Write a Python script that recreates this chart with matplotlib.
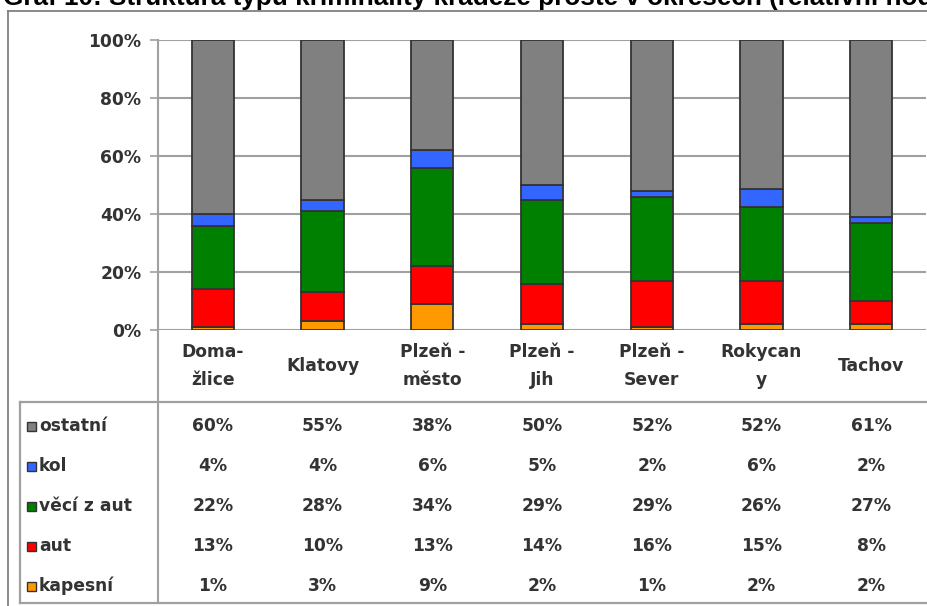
import matplotlib
matplotlib.use("Agg")
import matplotlib.pyplot as plt
import numpy as np
from matplotlib.patches import Rectangle
from matplotlib.lines import Line2D

categories = ["Doma-\nžlice", "Klatovy", "Plzeň -\nměsto", "Plzeň -\nJih", "Plzeň -\nSever", "Rokycan\ny", "Tachov"]
series_names = ["ostatní", "kol", "věcí z aut", "aut", "kapesní"]
ostatni = [60, 55, 38, 50, 52, 52, 61]
kol = [4, 4, 6, 5, 2, 6, 2]
veci_z_aut = [22, 28, 34, 29, 29, 26, 27]
aut = [13, 10, 13, 14, 16, 15, 8]
kapesni = [1, 3, 9, 2, 1, 2, 2]
yticks = [0, 20, 40, 60, 80, 100]
title = "Graf 10: Struktura typů kriminality krádeže prosté v okresech (relativní hodnoty)"

colors = {"ostatní": "#808080", "kol": "#3366FF", "věcí z aut": "#008000",
          "aut": "#FF0000", "kapesní": "#FF9900"}
values = {"ostatní": ostatni, "kol": kol, "věcí z aut": veci_z_aut,
          "aut": aut, "kapesní": kapesni}

W, H = 928, 606
fig = plt.figure(figsize=(W / 100, H / 100), dpi=100)
fig.patch.set_facecolor("white")

def fx(px):
    return px / W

def fy(py):
    return 1 - py / H

FONT = "DejaVu Sans"
TXT = "#333333"
FS = 12.3

# plot area
left, right, top, bottom = 158, 926, 40, 330
ax = fig.add_axes([fx(left), fy(bottom), fx(right - left), (bottom - top) / H])
x = np.arange(len(categories))
totals = np.sum([values[n] for n in series_names], axis=0).astype(float)
stack_order = ["kapesní", "aut", "věcí z aut", "kol", "ostatní"]
base = np.zeros(len(categories))
for name in stack_order:
    v = np.array(values[name], dtype=float) / totals * 100
    ax.bar(x, v, bottom=base, width=0.385, color=colors[name],
           edgecolor="#333333", linewidth=1.3, zorder=3)
    base += v

ax.set_xlim(-0.5, len(categories) - 0.5)
ax.set_ylim(0, 100)
ax.set_yticks(yticks)
ax.set_yticklabels([f"{t}%" for t in yticks], fontsize=FS, fontweight="bold",
                   color=TXT, family=FONT)
ax.set_xticks([])
ax.tick_params(axis="y", length=6, width=1.2, color="#a0a0a0", pad=6)
for s in ["top", "right", "bottom"]:
    ax.spines[s].set_visible(False)
ax.spines["left"].set_color("#a0a0a0")
ax.spines["left"].set_linewidth(1.5)
ax.yaxis.grid(True, color="#a0a0a0", linewidth=1.5, zorder=0)
ax.set_axisbelow(True)
ax.set_facecolor("white")

# centers of categories in pixels
step = (right - left) / len(categories)
centers = [left + step * (i + 0.5) for i in range(len(categories))]

# category labels
for cx, lab in zip(centers, categories):
    fig.text(fx(cx), fy(366), lab, ha="center", va="center", fontsize=FS,
             fontweight="bold", color=TXT, family=FONT, linespacing=1.65)

# table frame
fig.add_artist(Line2D([fx(20), fx(W + 5)], [fy(402), fy(402)], color="#a0a0a0", lw=1.6))
fig.add_artist(Line2D([fx(20), fx(W + 5)], [fy(602.5), fy(602.5)], color="#a0a0a0", lw=1.6))
fig.add_artist(Line2D([fx(20), fx(20)], [fy(402), fy(602.5)], color="#a0a0a0", lw=1.6))
fig.add_artist(Line2D([fx(158), fx(158)], [fy(330), fy(602.5)], color="#a0a0a0", lw=1.5))

# outer frame
fig.add_artist(Line2D([fx(8), fx(W + 5)], [fy(10.5), fy(10.5)], color="#808080", lw=1.3))
fig.add_artist(Line2D([fx(8), fx(8)], [fy(10.5), fy(H + 5)], color="#808080", lw=1.3))

# table rows
row_y = [426, 466, 506, 546, 586]
for ry, name in zip(row_y, series_names):
    fig.add_artist(Rectangle((fx(27), fy(ry + 5)), 9 / W, 9 / H,
                             facecolor=colors[name], edgecolor="#333333", lw=1.0))
    fig.text(fx(39), fy(ry), name, ha="left", va="center", fontsize=FS,
             fontweight="bold", color=TXT, family=FONT)
    for cx, val in zip(centers, values[name]):
        fig.text(fx(cx), fy(ry), f"{val}%", ha="center", va="center",
                 fontsize=FS, fontweight="bold", color=TXT, family=FONT)

# title (cut at top, as in the reference)
fig.text(fx(3), fy(5), title, ha="left", va="baseline", fontsize=18.8,
         fontweight="bold", color="#000000", family="Liberation Sans")

fig.savefig("out.png", dpi=100)
